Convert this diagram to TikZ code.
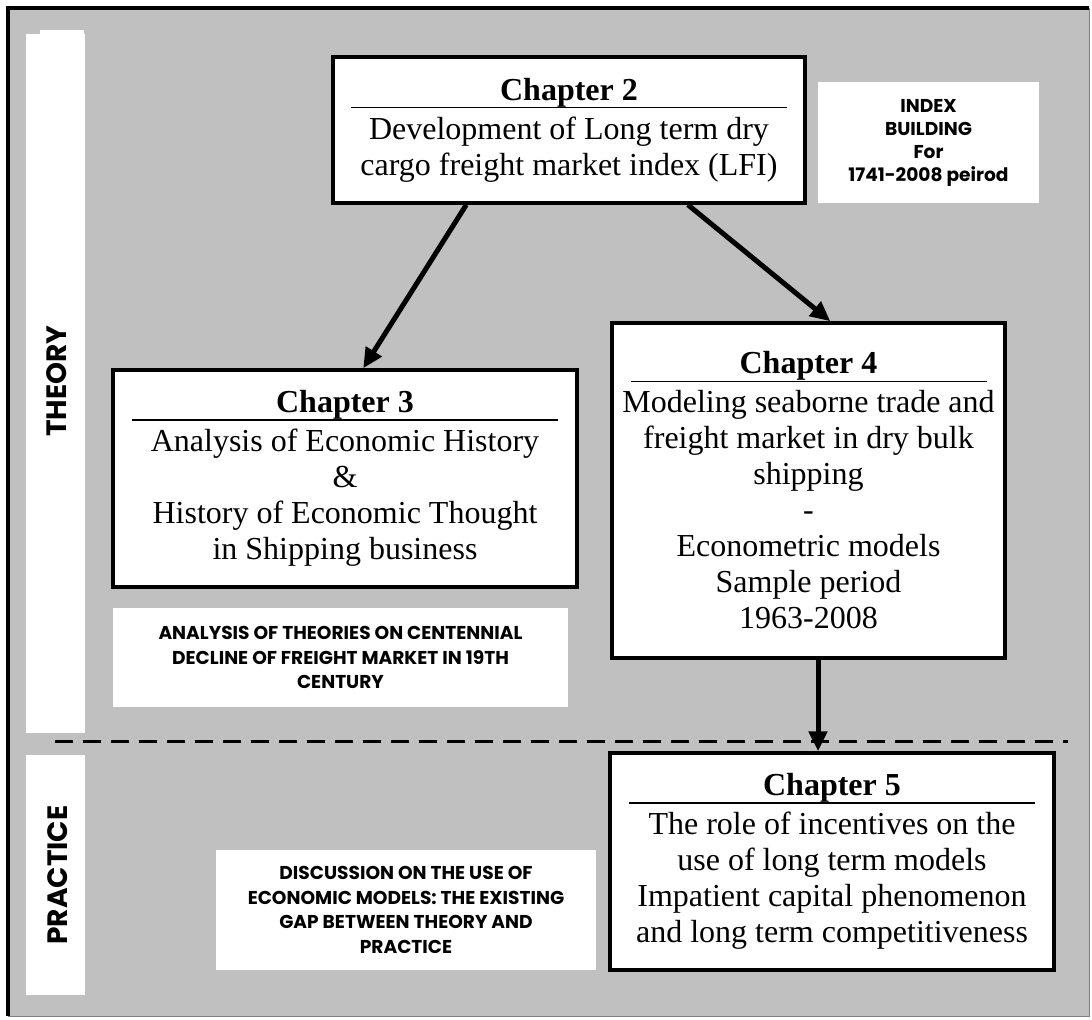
\documentclass[tikz,border=0pt]{standalone}
\usepackage{fontspec}
\setmainfont{Liberation Serif}
\newfontfamily\capsfont{Poppins}
\usepackage{tikz}
\usetikzlibrary{arrows.meta,calc}
\definecolor{panel}{HTML}{C0C0C0}
\definecolor{rim}{HTML}{808080}

\begin{document}
\begin{tikzpicture}[x=0.5pt, y=-0.5pt,
  chap/.style={draw, line width=1.75pt, fill=white, align=center, inner sep=0pt, font=\fontsize{16}{18}\selectfont},
  tag/.style={fill=white, align=center, inner sep=0pt, font=\capsfont\bfseries\fontsize{9.3}{12.25}\selectfont},
  side/.style={rotate=90, inner sep=0pt, font=\capsfont\bfseries\fontsize{14}{16}\selectfont},
  flow/.style={-{Triangle[length=10pt,width=9pt]}, line width=2.5pt}
]
  \useasboundingbox (0,0) rectangle (1092,1019);

  % Frame
  \fill[panel] (8,8) rectangle (1089,1016);
  \draw[rim] (1089,8) -- (1089,1016) -- (8,1016);
  \draw[line width=1.75pt] (8,1016) -- (8,8) -- (1089,8);

  % Side strips
  \fill[white] (26,34) rectangle (85,733);
  \fill[white] (40,30) rectangle (84,34);
  \fill[white] (26,755) rectangle (85,995);
  \node[side] (theory) at (57,381) {THEORY};
  \node[side] (practice) at (58,875) {PRACTICE};

  % Theory / practice divide
  \coordinate (divl) at (55,741);
  \coordinate (divr) at (1068,741);
  \draw[line width=1.5pt, dash pattern=on 9pt off 5pt] (divl) -- (divr);

  % Chapters
  \node[chap, minimum width=236pt, minimum height=73pt] (ch2) at (569,130)
    {\textbf{Chapter 2}\\[-14pt]\rule{218pt}{0.65pt}\\[-2.5pt]Development of Long term dry\\cargo freight market index (LFI)};
  \node[chap, minimum width=232pt, minimum height=108.5pt] (ch3) at (345,478.5)
    {\textbf{Chapter 3}\\[-14pt]\rule{213pt}{0.65pt}\\[-2.5pt]Analysis of Economic History\\\&\\History of Economic Thought\\in Shipping business};
  \node[chap, minimum width=196.5pt, minimum height=167.5pt] (ch4) at (808.5,490.5)
    {\textbf{Chapter 4}\\[-14pt]\rule{178pt}{0.65pt}\\[-2.5pt]Modeling seaborne trade and\\freight market in dry bulk\\shipping\\-\\Econometric models\\Sample period\\1963-2008};
  \node[chap, minimum width=222pt, minimum height=108.5pt] (ch5) at (832,861.5)
    {\textbf{Chapter 5}\\[-14pt]\rule{203pt}{0.65pt}\\[-2.5pt]The role of incentives on the\\use of long term models\\Impatient capital phenomenon\\and long term competitiveness};

  % Notes
  \node[tag, minimum width=110.5pt, minimum height=60.5pt, font=\capsfont\bfseries\fontsize{9.3}{11.5}\selectfont] (index) at (928.5,142.5)
    {INDEX\\BUILDING\\For\\1741-2008 peirod};
  \node[tag, minimum width=227.5pt, minimum height=49.5pt] (theories) at (340.5,657.5)
    {ANALYSIS OF THEORIES ON CENTENNIAL\\DECLINE OF FREIGHT MARKET IN 19TH\\CENTURY};
  \node[tag, minimum width=190pt, minimum height=60pt] (gap) at (406,910)
    {DISCUSSION ON THE USE OF\\ECONOMIC MODELS: THE EXISTING\\GAP BETWEEN THEORY AND\\PRACTICE};

  % Flow
  \draw[flow] ($(ch2.south west)!0.284!(ch2.south east)$) -- ($(ch3.north west)!0.539!(ch3.north east)$);
  \draw[flow] ($(ch2.south west)!0.75!(ch2.south east)$) -- ($(ch4.north west)!0.555!(ch4.north east)$);
  \coordinate (down) at ($(ch4.south west)!0.524!(ch4.south east)$);
  \draw[flow] (down) -- (down |- ch5.north);
\end{tikzpicture}
\end{document}
